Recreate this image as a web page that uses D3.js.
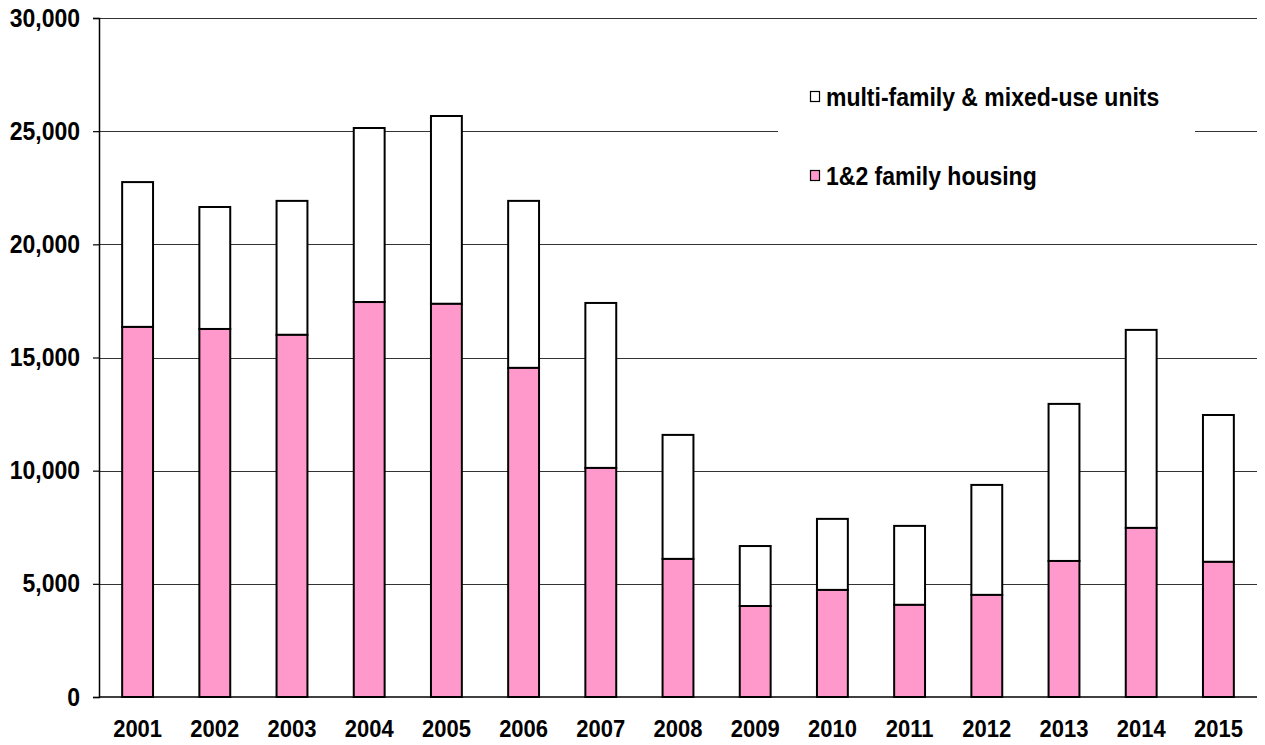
<html>
<head>
<script src="https://d3js.org/d3.v7.min.js"></script>
<style>
  body { margin: 0; background: #fff; }
  text { font-family: "Liberation Sans", Arial, sans-serif; font-weight: bold; fill: #000; }
</style>
</head>
<body>
<svg id="chart" width="1265" height="745"></svg>
<script>
const years = ["2001","2002","2003","2004","2005","2006","2007","2008","2009","2010","2011","2012","2013","2014","2015"];
const family12 = [16350, 16260, 16000, 17450, 17370, 14540, 10120, 6100, 4020, 4730, 4070, 4510, 6010, 7470, 5970];
const totals = [22750, 21650, 21920, 25140, 25670, 21920, 17410, 11580, 6670, 7870, 7560, 9370, 12950, 16220, 12460];
const multiFamily = totals.map((t, i) => t - family12[i]);
const yTicks = [0, 5000, 10000, 15000, 20000, 25000, 30000];
const seriesNames = ["multi-family & mixed-use units", "1&2 family housing"];

const svg = d3.select("#chart");
const margins = { top: 18, right: 8, bottom: 48, left: 99 };
const width = 1265, height = 745;
const chartWidth = width - margins.left - margins.right;
const chartHeight = height - margins.top - margins.bottom;
const g = svg.append("g").attr("transform", `translate(${margins.left},${margins.top})`);

const xScale = d3.scaleBand().domain(years).range([0, chartWidth]).paddingInner(0.6).paddingOuter(0.3);
const yScale = d3.scaleLinear().domain([0, 30000]).range([chartHeight, 0]);

// gridlines
g.selectAll("line.grid").data(yTicks.slice(1))
  .join("line")
  .attr("x1", 0).attr("x2", chartWidth)
  .attr("y1", d => Math.round(yScale(d)) + 0.5).attr("y2", d => Math.round(yScale(d)) + 0.5)
  .attr("stroke", "#333").attr("stroke-width", 1.2);

// y axis
const yAxis = g.append("g")
  .call(d3.axisLeft(yScale).tickValues(yTicks).tickFormat(d3.format(",")).tickSize(6).tickPadding(13));
yAxis.select(".domain").attr("stroke", "#000").attr("stroke-width", 1.5);
yAxis.selectAll(".tick line").attr("stroke", "#000").attr("stroke-width", 1.2);
yAxis.selectAll("text").style("font-size", "23px").style("font-weight", "bold").attr("fill", "#000")
  .style("font-family", "'Liberation Sans', Arial, sans-serif")
  .attr("transform", "scale(1,1.1)");

// x axis baseline
g.append("line").attr("x1", 0).attr("x2", chartWidth)
  .attr("y1", chartHeight).attr("y2", chartHeight)
  .attr("stroke", "#000").attr("stroke-width", 1.5);

// x labels
const xAxis = g.append("g").attr("transform", `translate(0,${chartHeight})`)
  .call(d3.axisBottom(xScale).tickSize(0).tickPadding(21));
xAxis.select(".domain").remove();
xAxis.selectAll("text").style("font-size", "22px").style("font-weight", "bold").attr("fill", "#000")
  .style("font-family", "'Liberation Sans', Arial, sans-serif")
  .attr("transform", "scale(1,1.1)");

// legend background (covers the gridline)
svg.append("rect").attr("x", 778).attr("y", 70).attr("width", 417).attr("height", 130).attr("fill", "#fff");

// bars
const stackData = years.map((y, i) => ({ year: y, family: family12[i], multi: multiFamily[i] }));
g.selectAll("rect.multi").data(stackData)
  .join("rect").attr("class", "multi")
  .attr("x", d => xScale(d.year))
  .attr("y", d => yScale(d.family + d.multi))
  .attr("width", xScale.bandwidth())
  .attr("height", d => yScale(d.family) - yScale(d.family + d.multi))
  .attr("fill", "#fff").attr("stroke", "#000").attr("stroke-width", 2);
g.selectAll("rect.fam").data(stackData)
  .join("rect").attr("class", "fam")
  .attr("x", d => xScale(d.year))
  .attr("y", d => yScale(d.family))
  .attr("width", xScale.bandwidth())
  .attr("height", d => yScale(0) - yScale(d.family))
  .attr("fill", "#ff99cc").attr("stroke", "#000").attr("stroke-width", 2);

// legend
const legendColors = ["#fff", "#ff99cc"];
const legend = svg.append("g").attr("transform", "translate(810,91)");
seriesNames.forEach((name, i) => {
  const row = legend.append("g").attr("transform", `translate(0,${i * 79})`);
  row.append("rect").attr("x", 0.5).attr("y", 0.5).attr("width", 9).attr("height", 10)
    .attr("fill", legendColors[i]).attr("stroke", "#000").attr("stroke-width", 1.2);
  row.append("text").attr("transform", "translate(16,15) scale(1,1.1)")
    .style("font-size", "23px").text(name);
});
</script>
</body>
</html>
